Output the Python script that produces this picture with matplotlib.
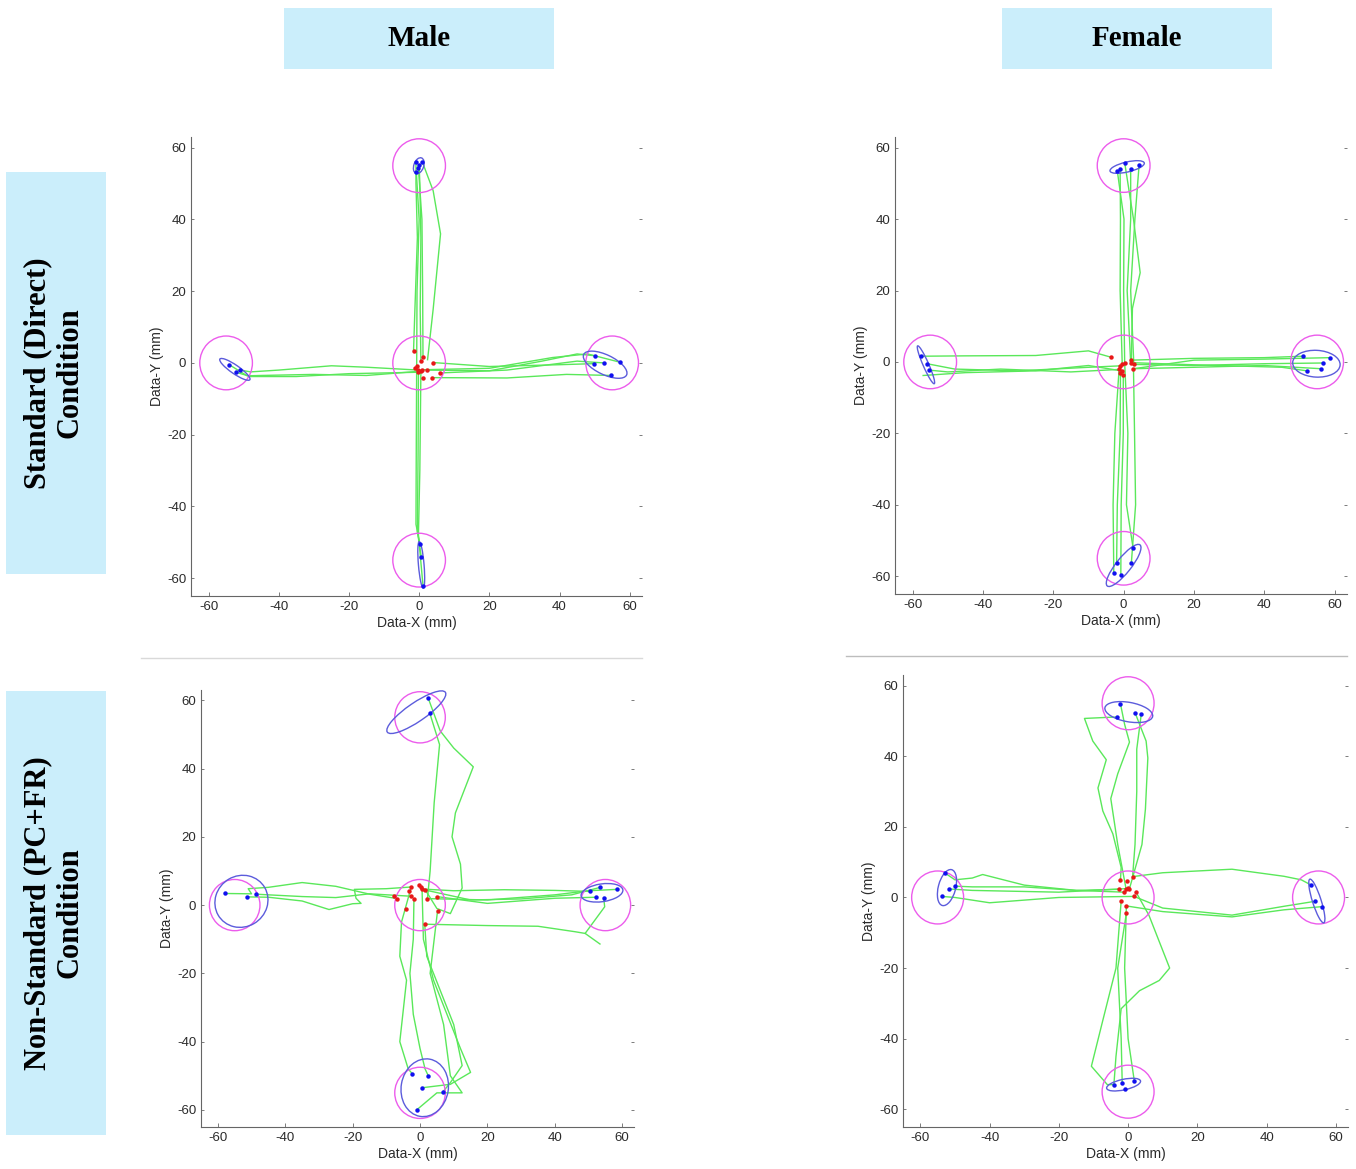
#~~~~~~~~~~~~~~~~~~~~~~~~~~~~~~~~~~~~~~~~~~~~~~~~~~~~~~
######## Centre-out reaching: Male / Female panels ########
#~~~~~~~~~~~~~~~~~~~~~~~~~~~~~~~~~~~~~~~~~~~~~~~~~~~~~~

import matplotlib.pyplot as plt
from matplotlib.patches import Circle, Ellipse, Rectangle
from matplotlib.lines import Line2D

plt.rcParams['axes.unicode_minus'] = False
plt.rcParams['font.family'] = ['Liberation Sans', 'DejaVu Sans']

#~~~~~~~~~~~~~~~~~~~~~~~~~~~~~~~~~~~~~~~~~~~~~~~~~~~~~~
######## Data ########
#~~~~~~~~~~~~~~~~~~~~~~~~~~~~~~~~~~~~~~~~~~~~~~~~~~~~~~
targets_x = [0, 0, 0, -55, 55]
targets_y = [0, 55, -55, 0, 0]
target_r = 7.5

col_titles = ['Male', 'Female']
row_titles = ['Standard (Direct)\nCondition', 'Non-Standard (PC+FR)\nCondition']
ticks = [-60, -40, -20, 0, 20, 40, 60]

# --- Male, standard
male_std_start = [(-1.6, 3.2), (1.1, 1.6), (0.5, 0.5), (4.0, 0.1), (-0.7, -0.9), (-1.1, -1.3),
                  (-0.2, -2.0), (0.9, -1.9), (2.1, -2.0), (-0.2, -2.6), (1.1, -4.3), (3.8, -4.1),
                  (5.9, -2.8), (0.5, -2.3)]
male_std_end = [(-0.9, 56.0), (0.0, 55.1), (0.9, 56.1), (-0.8, 53.3), (-0.2, 54.4),
                (-54.1, -0.5), (-52.2, -2.6), (-51.0, -2.0),
                (50.1, 2.0), (49.9, -0.2), (52.6, 0.0), (57.2, 0.2), (54.7, -3.5),
                (0.2, -50.5), (0.6, -54.0), (1.1, -62.1)]
# cx, cy, width, height, angle
male_std_ell = [(-0.1, 55.0, 4.6, 2.8, 70), (-52.5, -1.8, 10.3, 2.4, -34),
                (53.0, -0.5, 13.5, 5.5, -25), (0.6, -56.3, 13.0, 1.6, 95)]
male_std_paths = [
    [(-1.6, 3.2), (-1.2, 15), (-0.5, 35), (-0.9, 50), (-0.9, 56.0)],
    [(0.5, 0.5), (0.3, 15), (0.5, 35), (0.2, 50), (0.0, 55.1)],
    [(2.4, 0.9), (4.0, 15), (6.1, 36), (4.0, 48), (0.9, 56.1)],
    [(-0.7, -0.9), (-0.6, 20), (0.0, 40), (-0.8, 53.3)],
    [(1.1, 1.6), (1.0, 20), (0.8, 40), (-0.2, 54.4)],
    [(-0.2, -2.0), (-15, -1.2), (-25, -0.8), (-40, -2.0), (-48, -2.5), (-51.0, -2.0)],
    [(-0.2, -2.6), (-20, -3.0), (-35, -3.8), (-48, -3.8), (-52.2, -2.6)],
    [(0.5, -2.3), (-15, -3.5), (-30, -3.2), (-45, -3.5), (-49, -3.6), (-54.1, -0.5)],
    [(2.1, -2.0), (20, -2.2), (35, 0.5), (45, 2.5), (50.1, 2.0)],
    [(1.1, -1.9), (20, -1.5), (38, 1.5), (48, 2.5), (57.2, 0.2)],
    [(3.8, -4.1), (25, -4.2), (42, -3.2), (54.7, -3.5)],
    [(5.9, -2.8), (25, -2.0), (45, 0.5), (52.6, 0.0)],
    [(4.0, 0.1), (20, -1.0), (40, -0.5), (49.9, -0.2)],
    [(-0.7, -0.9), (-0.8, -20), (-0.9, -45), (0.2, -50.5)],
    [(-0.2, -2.6), (-0.3, -25), (-0.5, -47), (0.6, -54.0)],
    [(0.5, -2.3), (0.2, -30), (-0.2, -48), (1.1, -62.1)],
]

# --- Female, standard
female_std_start = [(-3.5, 1.3), (-1.3, -2.1), (-1.0, -1.1), (-0.4, -0.7), (0.3, -0.4), (-0.9, -3.2),
                    (-0.1, -3.7), (2.2, 0.5), (2.9, -0.7), (2.8, -1.9), (2.0, -0.2), (-0.6, -2.5)]
female_std_end = [(0.3, 55.8), (-1.0, 53.9), (-1.8, 53.5), (2.0, 53.9), (4.4, 55.2),
                  (-57.5, 1.6), (-55.9, -0.5), (-55.2, -2.3),
                  (50.9, 1.6), (58.8, 1.2), (56.6, -0.3), (56.1, -1.9), (52.1, -2.5),
                  (2.7, -52.2), (-2.0, -56.4), (2.2, -56.3), (-2.8, -59.2), (-0.8, -59.6)]
female_std_ell = [(1.0, 54.6, 10.0, 2.8, 13), (-56.2, -0.8, 11.6, 1.6, 114),
                  (54.8, -0.5, 13.5, 7.5, -3), (0.0, -57.0, 14.8, 4.2, 51)]
female_std_paths = [
    [(2.2, 0.5), (2.5, 15), (4.7, 25), (2.8, 40), (0.3, 55.8)],
    [(-0.4, -0.7), (-1.0, 20), (-0.9, 40), (-1.0, 53.9)],
    [(0.3, -0.4), (0.0, 20), (0.1, 40), (-1.8, 53.5)],
    [(2.0, -0.2), (1.0, 20), (2.0, 40), (2.0, 53.9)],
    [(2.9, -0.7), (2.0, 20), (3.2, 40), (4.4, 55.2)],
    [(-3.5, 1.3), (-10, 3.1), (-25, 1.8), (-45, 1.7), (-57.5, 1.6)],
    [(-1.0, -1.1), (-10, -1.5), (-30, -2.5), (-48, -2.0), (-55.9, -0.5)],
    [(-1.3, -2.1), (-15, -2.8), (-35, -2.0), (-50, -2.8), (-55.2, -2.3)],
    [(-0.6, -2.5), (-10, -1.0), (-25, -2.5), (-45, -3.0), (-57.0, -3.8)],
    [(2.2, 0.5), (20, 1.0), (40, 1.2), (50.9, 1.6)],
    [(2.8, -1.9), (20, 0.5), (40, 0.8), (58.8, 1.2)],
    [(2.9, -0.7), (20, -1.0), (40, -0.5), (56.6, -0.3)],
    [(2.8, -1.9), (20, -1.5), (40, -1.0), (56.1, -1.9)],
    [(2.0, -0.2), (20, -0.8), (45, -1.5), (52.1, -2.5)],
    [(-1.3, -2.1), (-2.5, -20), (-3.0, -40), (-2.8, -59.2)],
    [(-0.9, -3.2), (-1.0, -20), (-1.8, -40), (-2.0, -56.4)],
    [(-0.1, -3.7), (-0.1, -20), (-0.7, -40), (-0.8, -59.6)],
    [(0.3, -0.4), (1.2, -20), (0.8, -40), (2.7, -52.2)],
    [(2.8, -1.9), (3.1, -20), (3.4, -40), (2.2, -56.3)],
]

# --- Male, non-standard
male_ns_start = [(-7.7, 2.6), (-6.7, 1.9), (-2.6, 5.3), (-3.3, 4.1), (-2.8, 2.6), (-1.8, 1.9),
                 (-0.4, 5.8), (0.4, 5.4), (0.6, 4.7), (1.6, 4.4), (2.2, 1.9), (4.9, 2.5),
                 (5.2, -1.7), (-4.1, -1.0), (1.4, -5.6)]
male_ns_end = [(2.4, 60.7), (2.9, 56.2),
               (-58.0, 3.4), (-51.3, 2.4), (-48.8, 3.2),
               (50.4, 4.0), (53.5, 5.2), (58.4, 4.6), (52.3, 2.3), (54.5, 2.2),
               (-2.3, -49.4), (2.5, -50.1), (0.6, -53.5), (6.8, -54.7), (-1.0, -60.0)]
male_ns_ell = [(-1.1, 56.5, 20.8, 5.5, 34), (-53.0, 1.1, 16.0, 15.0, 30),
               (54.0, 3.6, 12.5, 5.2, 8), (1.4, -53.5, 17.0, 14.0, 80)]
male_ns_paths = [
    [(2.2, 1.9), (3.0, 10), (4.2, 30), (5.8, 47), (2.9, 56.2)],
    [(1.6, 4.4), (5, -1), (9, -2.5), (12.5, 5), (12, 12), (9.5, 20), (10.5, 27), (15.8, 40.5),
     (10, 46), (6, 51), (2.4, 60.7)],
    [(-2.6, 5.3), (-10, 4.8), (-19.5, 4.6), (-19, 2), (-17.5, 0.5), (-20, 0.4), (-27, -1.3),
     (-35, 1.2), (-45, 2.3), (-51.3, 2.4)],
    [(-2.8, 2.6), (-15, 3.3), (-25, 2.2), (-35, 2.5), (-45, 3.0), (-48.8, 3.2)],
    [(-6.7, 1.9), (-15, 3.2), (-25, 5.5), (-35, 6.6), (-45, 5.2), (-51, 4.8), (-50, 3.3), (-58.0, 3.4)],
    [(0.6, 4.7), (10, 4.2), (25, 4.5), (40, 4.3), (50.4, 4.0)],
    [(1.6, 4.4), (15, 1.5), (30, 1.8), (45, 3.0), (53.5, 5.2)],
    [(2.2, 1.9), (20, 1.5), (40, 3.0), (50, 4.2), (58.4, 4.6)],
    [(4.9, 2.5), (20, 0.5), (40, 2.0), (52.3, 2.3)],
    [(1.4, -5.6), (20, -6.0), (35, -6.2), (46, -7.8), (49, -8.3), (54.8, -0.5), (54.5, 2.2)],
    [(49, -8.3), (53.4, -11.4)],
    [(-2.6, 5.3), (-5.5, -5), (-6, -15), (-4, -22), (-6, -40), (-3.5, -48), (-2.3, -49.4)],
    [(-1.8, 1.9), (-2, -10), (-3, -20), (-2, -32), (0, -42), (1.5, -48), (2.5, -50.1)],
    [(1.4, -5.6), (2, -15), (6, -25), (10, -35), (12.5, -47), (9, -52), (6.8, -54.7)],
    [(0.6, 4.7), (1, -10), (4, -22), (8, -32), (12, -42), (15, -49), (9, -52.5), (0.6, -53.5)],
    [(5.2, -1.7), (3, -20), (7, -35), (9, -50), (12.5, -55), (5, -55), (-1.0, -60.0)],
]

# --- Female, non-standard
female_ns_start = [(-2.2, 5.0), (1.3, 5.9), (-0.4, 4.6), (-2.7, 2.3), (-1.1, 1.5), (-0.6, 2.5),
                   (-0.1, 2.8), (0.4, 2.5), (2.3, 1.5), (1.7, 0.3), (-2.0, -1.0), (-0.5, -2.4),
                   (-0.5, -4.5)]
female_ns_end = [(-2.2, 54.8), (-3.2, 51.1), (2.1, 52.1), (3.8, 51.9),
                 (-53.0, 7.0), (-51.6, 2.4), (-49.9, 3.2), (-53.8, 0.3),
                 (52.9, 3.5), (53.9, -1.1), (56.0, -2.6),
                 (-4.1, -53.0), (-1.7, -52.5), (1.8, -52.0), (-1.0, -54.1)]
female_ns_ell = [(0.2, 52.5, 14.0, 5.5, -10), (-52.3, 2.8, 10.5, 5.0, 75),
                 (54.5, -1.0, 13.0, 2.5, 108), (-1.3, -53.0, 10.0, 3.0, 12)]
female_ns_paths = [
    [(-2.2, 5.0), (-2, 8.5), (-4.4, 18), (-7.3, 24.5), (-8.7, 31), (-6.3, 39), (-10.2, 44.3),
     (-12.6, 50.7), (-6, 51), (-3.2, 51.1)],
    [(-0.6, 2.5), (-3, 15), (-5, 28), (-3, 35), (0.4, 44), (-1, 49), (-2.2, 54.8)],
    [(1.3, 5.9), (2, 15), (2.5, 30), (2.5, 42), (3.8, 51.9)],
    [(0.4, 2.5), (4, 15), (5, 25), (5.7, 39.5), (5.2, 44.3), (2.1, 52.1)],
    [(-2.7, 2.3), (-15, 2.0), (-30, 3.5), (-42, 6.5), (-45, 5.5), (-50, 5.0), (-53.0, 7.0)],
    [(-1.1, 1.5), (-15, 2.0), (-30, 3.0), (-45, 3.0), (-49.9, 3.2)],
    [(-0.6, 2.5), (-20, 1.5), (-45, 2.0), (-51.6, 2.4)],
    [(1.7, 0.3), (-20, 0.0), (-40, -1.5), (-50, 0.0), (-53.8, 0.3)],
    [(1.3, 5.9), (10, 7), (30, 8), (45, 6), (50, 5), (52.9, 3.5)],
    [(1.7, 0.3), (10, -3), (30, -5), (45, -2.5), (53.9, -1.1)],
    [(-0.5, -2.4), (10, -4), (30, -5.5), (45, -3.5), (56.0, -2.6)],
    [(2.3, 1.5), (6, -5), (12, -20), (9, -23.5), (3.3, -26.4), (-2, -31.5), (-3.5, -45), (-4.1, -53.0)],
    [(-2.0, -1.0), (-3.5, -20), (-7.3, -34.8), (-10.6, -47.8), (-6, -53), (-4.1, -53.0)],
    [(-0.5, -4.5), (-3, -20), (-2, -40), (-1.7, -52.5)],
    [(-0.5, -2.4), (-1, -20), (0, -40), (1.8, -52.0)],
]

#~~~~~~~~~~~~~~~~~~~~~~~~~~~~~~~~~~~~~~~~~~~~~~~~~~~~~~
######## Plotting ########
#~~~~~~~~~~~~~~~~~~~~~~~~~~~~~~~~~~~~~~~~~~~~~~~~~~~~~~
W, H = 1356, 1169
fig = plt.figure(figsize=(W / 100, H / 100), dpi=100)
fig.patch.set_facecolor('white')

def px_rect(x0, y0, x1, y1):
    """ pixel box (top-left origin) -> figure fraction rect """
    return [x0 / W, 1 - y1 / H, (x1 - x0) / W, (y1 - y0) / H]


def draw_panel(rect, starts, ends, paths, ells):
    ax = fig.add_axes(rect)
    for p in paths:
        ax.plot([q[0] for q in p], [q[1] for q in p], color='#5ae85a', lw=1.0, zorder=2)
    for tx, ty in zip(targets_x, targets_y):
        ax.add_patch(Circle((tx, ty), target_r, fill=False, ec='#ec5cec', lw=1.0, zorder=3))
    for cx, cy, w, h, a in ells:
        ax.add_patch(Ellipse((cx, cy), w, h, angle=a, fill=False, ec='#5c5cdc', lw=1.0, zorder=4))
    ax.plot([q[0] for q in ends], [q[1] for q in ends], 'o', color='#1010f0', ms=3.2, mew=0, zorder=5)
    ax.plot([q[0] for q in starts], [q[1] for q in starts], 'o', color='#e81818', ms=3.2, mew=0, zorder=5)

    ax.set_xlim(-65, 63.5)
    ax.set_ylim(-65, 63)
    ax.set_xticks(ticks)
    ax.set_yticks(ticks)
    ax.spines['top'].set_visible(False)
    ax.spines['right'].set_visible(False)
    for s in ['left', 'bottom']:
        ax.spines[s].set_color('#666666')
        ax.spines[s].set_linewidth(0.8)
    ax.tick_params(direction='in', length=3, width=0.6, colors='#666666',
                   labelcolor='#2b2b2b', labelsize=9.5)
    ax.tick_params(axis='y', right=True, length=2)
    ax.set_xlabel('Data-X (mm)', fontsize=10, color='#2b2b2b', labelpad=2)
    ax.set_ylabel('Data-Y (mm)', fontsize=10, color='#2b2b2b', labelpad=2)
    return ax


draw_panel(px_rect(191, 137, 642, 596), male_std_start, male_std_end, male_std_paths, male_std_ell)
draw_panel(px_rect(895, 137, 1347, 594), female_std_start, female_std_end, female_std_paths, female_std_ell)
draw_panel(px_rect(201, 690, 634, 1127), male_ns_start, male_ns_end, male_ns_paths, male_ns_ell)
draw_panel(px_rect(903, 675, 1348, 1127), female_ns_start, female_ns_end, female_ns_paths, female_ns_ell)

# header / row boxes
box_col = '#cbeefb'
for (x0, x1), txt in zip([(284, 554), (1002, 1272)], col_titles):
    fig.patches.append(Rectangle((x0 / W, 1 - 69 / H), (x1 - x0) / W, 61 / H,
                                 transform=fig.transFigure, fc=box_col, ec='none'))
    fig.text((x0 + x1) / 2 / W, 1 - 38 / H, txt, ha='center', va='center',
             family='Liberation Serif', weight='bold', fontsize=21)

for (y0, y1), txt in zip([(172, 574), (691, 1135)], row_titles):
    fig.patches.append(Rectangle((6 / W, 1 - y1 / H), 100 / W, (y1 - y0) / H,
                                 transform=fig.transFigure, fc=box_col, ec='none'))
    fig.text(54 / W, 1 - (y0 + y1) / 2 / H, txt, ha='center', va='center', rotation=90,
             family='Liberation Serif', weight='bold', fontsize=22, linespacing=1.15,
             multialignment='center')

# thin separators between the rows
fig.add_artist(Line2D([141 / W, 642 / W], [1 - 658 / H, 1 - 658 / H], color='#d9d9d9', lw=1))
fig.add_artist(Line2D([846 / W, 1347 / W], [1 - 656 / H, 1 - 656 / H], color='#bdbdbd', lw=1))

plt.savefig('out.png', dpi=100)
